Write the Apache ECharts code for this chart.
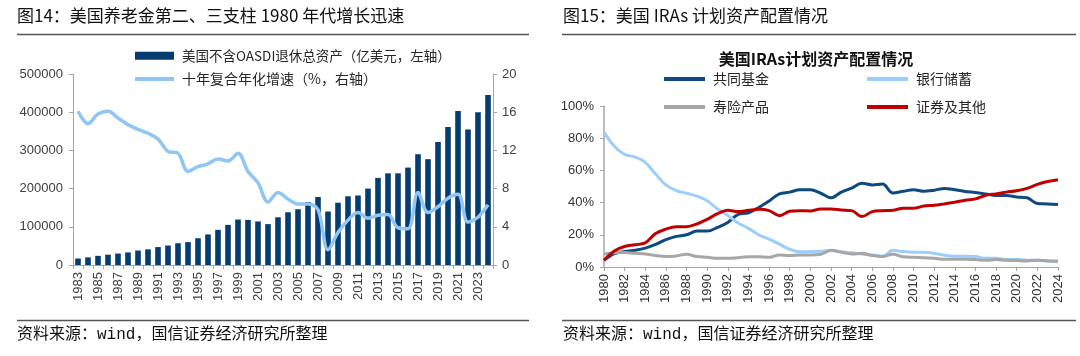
<!DOCTYPE html>
<html>
<head>
<meta charset="utf-8">
<script src="https://cdn.jsdelivr.net/npm/echarts@6/dist/echarts.min.js"></script>
<style>
html,body{margin:0;padding:0;background:#fff;}
#c{width:1080px;height:356px;}
</style>
</head>
<body>
<div id="c"></div>
<script>
// ---- Left chart data ----
var yearsLeft = ['1983','1984','1985','1986','1987','1988','1989','1990','1991','1992','1993','1994','1995','1996','1997','1998','1999','2000','2001','2002','2003','2004','2005','2006','2007','2008','2009','2010','2011','2012','2013','2014','2015','2016','2017','2018','2019','2020','2021','2022','2023','2024'];
var retireAssets = [17000,20000,24000,27000,30000,33000,38000,41000,47000,51000,57000,60000,70000,80000,92000,105000,119000,118000,114000,107000,125000,138000,146000,165000,178000,140000,163000,180000,182000,200000,228000,240000,240000,255000,290000,277000,322000,361000,403000,355000,400000,445000];
var cagr10 = [16.1,14.8,15.8,16.1,15.4,14.7,14.2,13.8,13.2,11.9,11.7,9.8,10.3,10.6,11.1,10.9,11.7,9.8,8.6,6.6,7.6,6.9,6.4,6.4,5.8,1.6,3.4,4.7,5.5,4.9,5.2,5.3,3.9,3.8,7.6,5.5,6.1,7.0,7.4,4.5,5.0,6.3];
var leftAxisTicks = [0,100000,200000,300000,400000,500000];
var rightAxisTicks = [0,4,8,12,16,20];

// ---- Right chart data ----
var yearsRight = ['1980','1981','1982','1983','1984','1985','1986','1987','1988','1989','1990','1991','1992','1993','1994','1995','1996','1997','1998','1999','2000','2001','2002','2003','2004','2005','2006','2007','2008','2009','2010','2011','2012','2013','2014','2015','2016','2017','2018','2019','2020','2021','2022','2023','2024'];
var mutualFunds = [4.2,8.3,9.6,10.4,11.7,14,17,19,20,22.3,22.3,24.6,27.7,32.7,33.7,37,41,45.4,46.5,48,48,45.8,43,46.5,49,52,51,51.5,46,47,48,47,47.7,48.8,48,46.9,46.3,45.4,44.4,44.4,43.5,43,39.4,39.2,38.8];
var bankDeposits = [83.8,75,70,68.3,65,57.7,51,47.5,45.8,44,41.2,36,32,27.3,24,20,17.3,14.2,11,9.4,9.6,9.8,10.2,9.4,8.8,8.1,7.5,6.7,10.4,9.6,9.2,9.2,8.5,7.3,6.7,6.7,6.5,5.4,5.4,4.6,4.8,4.2,4.2,3.8,3.3];
var lifeInsurance = [8.1,8.8,9,8.5,8.1,7.1,6.5,6.9,7.9,6.5,6,5.4,5.4,5.8,6.3,6.3,6,7.5,7.1,7.5,7.5,7.9,10.4,9.2,8.1,8.5,7.1,6.5,7.9,6.3,6,5.8,5.4,4.8,4.8,4.8,4.6,4.2,4.6,4.2,4,3.8,4.2,3.8,3.8];
var securitiesOther = [4.2,10,12.7,13.8,15,20.8,23.5,25,25,26.7,29.6,33.1,35.2,34.4,35.2,35.8,35,31.9,34.6,35,34.8,36,36,35.4,35,31.3,34.4,35,35.2,36.5,36.5,37.9,38.3,39.2,40.2,41.5,42.3,44.6,45.4,46.5,47.3,48.8,51.3,53.1,54.2];

var FONT = "'Liberation Sans', 'Noto Sans CJK SC', sans-serif";
var CJK = "'Noto Sans CJK SC', sans-serif";
var axisGray = '#a6a6a6';
var labelColor = '#404040';

var chart = echarts.init(document.getElementById('c'), null, {renderer: 'canvas'});

function legendAt(name, left, top, w, h, fs) {
  return {
    data: [{name: name, icon: 'rect'}],
    left: left, top: top, orient: 'horizontal',
    itemWidth: w, itemHeight: h, itemGap: 0,
    padding: 0,
    selectedMode: false,
    textStyle: {fontFamily: CJK, fontSize: fs || 14, color: '#262626', padding: [0,0,0,3]}
  };
}

var option = {
  animation: false,
  backgroundColor: '#ffffff',
  textStyle: {fontFamily: FONT},
  graphic: [
    {type: 'text', left: 17, top: 7, style: {text: '图14：美国养老金第二、三支柱 1980 年代增长迅速', font: "17px 'Noto Sans CJK SC'", fill: '#111'}},
    {type: 'text', left: 563, top: 7, style: {text: '图15：美国 IRAs 计划资产配置情况', font: "17px 'Noto Sans CJK SC'", fill: '#111'}},
    {type: 'line', shape: {x1: 17, y1: 34.5, x2: 529, y2: 34.5}, style: {stroke: '#555', lineWidth: 1.5}},
    {type: 'line', shape: {x1: 562, y1: 34.5, x2: 1076, y2: 34.5}, style: {stroke: '#555', lineWidth: 1.5}},
    {type: 'line', shape: {x1: 17, y1: 320.5, x2: 529, y2: 320.5}, style: {stroke: '#555', lineWidth: 1.5}},
    {type: 'line', shape: {x1: 562, y1: 320.5, x2: 1076, y2: 320.5}, style: {stroke: '#555', lineWidth: 1.5}},
    {type: 'text', left: 17, top: 327, style: {text: '资料来源：wind，国信证券经济研究所整理', font: "16px 'Liberation Mono', 'Noto Sans CJK SC'", fill: '#111'}},
    {type: 'text', left: 563, top: 327, style: {text: '资料来源：wind，国信证券经济研究所整理', font: "16px 'Liberation Mono', 'Noto Sans CJK SC'", fill: '#111'}}
  ],
  title: {
    text: '美国IRAs计划资产配置情况',
    left: 811, top: 46, textAlign: 'center',
    textStyle: {fontFamily: CJK, fontSize: 16, fontWeight: 'bold', color: '#111'}
  },
  legend: [
    legendAt('美国不含OASDI退休总资产（亿美元，左轴）', 135, 49, 39, 8, 13.5),
    legendAt('十年复合年化增速（%，右轴）', 135, 72, 39, 4, 14),
    legendAt('共同基金', 664, 72, 41, 4),
    legendAt('银行储蓄', 867, 72, 41, 4),
    legendAt('寿险产品', 664, 100, 41, 4),
    legendAt('证券及其他', 867, 100, 41, 4)
  ],
  grid: [
    {left: 73, right: 587, top: 74, bottom: 91},
    {left: 604, right: 22, top: 106, bottom: 89}
  ],
  xAxis: [
    {
      type: 'category', gridIndex: 0, data: yearsLeft, boundaryGap: true,
      axisLine: {lineStyle: {color: axisGray}},
      axisTick: {show: true, length: 4, interval: 0, lineStyle: {color: axisGray}},
      axisLabel: {interval: 1, rotate: 90, margin: 7, fontSize: 13, color: labelColor, fontFamily: FONT}
    },
    {
      type: 'category', gridIndex: 1, data: yearsRight, boundaryGap: false,
      axisLine: {lineStyle: {color: axisGray}},
      axisTick: {show: true, length: 4, interval: 1, lineStyle: {color: axisGray}},
      axisLabel: {interval: 1, rotate: 90, margin: 7, fontSize: 13, color: '#333', fontFamily: FONT}
    }
  ],
  yAxis: [
    {
      type: 'value', gridIndex: 0, min: leftAxisTicks[0], max: leftAxisTicks[leftAxisTicks.length-1], interval: leftAxisTicks[1]-leftAxisTicks[0],
      splitLine: {show: false},
      axisLine: {show: true, lineStyle: {color: axisGray}},
      axisTick: {show: true, length: 4, lineStyle: {color: axisGray}},
      axisLabel: {margin: 10, fontSize: 13, color: labelColor, fontFamily: FONT, formatter: function (v) { return String(v); }}
    },
    {
      type: 'value', gridIndex: 0, position: 'right', min: rightAxisTicks[0], max: rightAxisTicks[rightAxisTicks.length-1], interval: rightAxisTicks[1]-rightAxisTicks[0],
      splitLine: {show: false},
      axisLine: {show: true, lineStyle: {color: axisGray}},
      axisTick: {show: true, length: 4, lineStyle: {color: axisGray}},
      axisLabel: {margin: 9, fontSize: 13, color: labelColor, fontFamily: FONT}
    },
    {
      type: 'value', gridIndex: 1, min: 0, max: 100, interval: 20,
      splitLine: {show: false},
      axisLine: {show: true, lineStyle: {color: axisGray, width: 1.5}},
      axisTick: {show: true, length: 4, lineStyle: {color: axisGray}},
      axisLabel: {margin: 10, fontSize: 13, color: '#333', fontFamily: FONT, formatter: '{value}%'}
    }
  ],
  series: [
    {
      name: '美国不含OASDI退休总资产（亿美元，左轴）', type: 'bar', xAxisIndex: 0, yAxisIndex: 0,
      data: retireAssets, barWidth: '56%', itemStyle: {color: '#063d70'}
    },
    {
      name: '十年复合年化增速（%，右轴）', type: 'line', xAxisIndex: 0, yAxisIndex: 1,
      data: cagr10, smooth: 0.35, showSymbol: false, symbol: 'none',
      lineStyle: {color: '#8fc6f6', width: 3.5}, itemStyle: {color: '#8fc6f6'}
    },
    {
      name: '共同基金', type: 'line', xAxisIndex: 1, yAxisIndex: 2,
      data: mutualFunds, smooth: 0.35, symbol: 'none',
      lineStyle: {color: '#0c4a80', width: 3}, itemStyle: {color: '#0c4a80'}
    },
    {
      name: '银行储蓄', type: 'line', xAxisIndex: 1, yAxisIndex: 2,
      data: bankDeposits, smooth: 0.35, symbol: 'none',
      lineStyle: {color: '#9ccdfb', width: 3}, itemStyle: {color: '#9ccdfb'}
    },
    {
      name: '寿险产品', type: 'line', xAxisIndex: 1, yAxisIndex: 2,
      data: lifeInsurance, smooth: 0.35, symbol: 'none',
      lineStyle: {color: '#a6a6a6', width: 3}, itemStyle: {color: '#a6a6a6'}
    },
    {
      name: '证券及其他', type: 'line', xAxisIndex: 1, yAxisIndex: 2,
      data: securitiesOther, smooth: 0.35, symbol: 'none',
      lineStyle: {color: '#c00000', width: 3}, itemStyle: {color: '#c00000'}
    }
  ]
};
chart.setOption(option);
</script>
</body>
</html>
